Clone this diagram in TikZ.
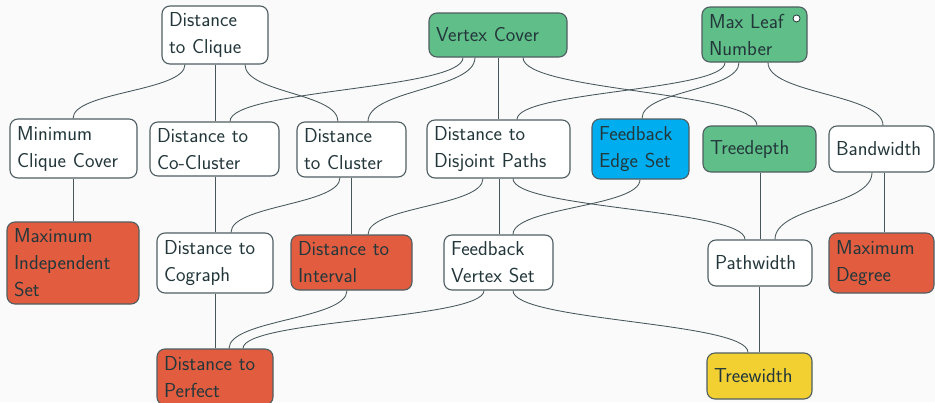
\documentclass[tikz,border=0pt]{standalone}
\usepackage{fontspec}
\usetikzlibrary{calc}

\definecolor{bgc}{HTML}{FAFAFA}
\definecolor{ink}{HTML}{23373B}
\definecolor{rim}{HTML}{4F5E62}
\definecolor{linkc}{HTML}{46565A}
\definecolor{fgreen}{HTML}{60BE88}
\definecolor{fred}{HTML}{E25D40}
\definecolor{fblue}{HTML}{00AEEF}
\definecolor{fyellow}{HTML}{F2D032}

% vertical S-shaped link from the bottom of one node to the top of another
\newcommand{\vlink}[4]{%
  \draw[link] let \p1=([xshift=#2]#1.south), \p2=([xshift=#4]#3.north) in
    (\p1) .. controls (\x1,{0.5*(\y1+\y2)}) and (\x2,{0.5*(\y1+\y2)}) .. (\p2);%
}

\tikzset{
  param/.style={draw=rim, line width=1.1pt, rounded corners=8pt, fill=white,
    text=ink, align=left, inner xsep=7pt, inner ysep=2pt,
    font=\sffamily\fontsize{20.2}{27}\selectfont},
  sz/.style 2 args={minimum width=#1pt, minimum height=#2pt, text width=#1pt-14pt},
  easy/.style={fill=fgreen},
  hard/.style={fill=fred},
  edgeset/.style={fill=fblue},
  twidth/.style={fill=fyellow},
  link/.style={draw=linkc, line width=0.85pt},
}

\begin{document}
\begin{tikzpicture}[x=1pt, y=-1pt]
  \fill[bgc] (0,0) rectangle (935,402);
  \useasboundingbox (0,0) rectangle (935,402);

  % top row
  \node[param, sz={106}{58}] (dclique) at (215,35) {Distance\\to Clique};
  \node[param, easy, sz={138}{44}] (vc) at (498,35) {Vertex Cover};
  \node[param, easy, sz={105}{55}] (mln) at (754.5,34.5) {Max Leaf\\Number};
  \node[circle, draw=ink, fill=white, line width=0.8pt, inner sep=0pt,
        minimum size=7pt] (mlndot) at ([xshift=-11pt, yshift=-12pt]mln.north east) {};

  % second row
  \node[param, sz={127}{59}] (mcc) at (73.5,148.5) {Minimum\\Clique Cover};
  \node[param, sz={129}{54}] (dcoc) at (214.5,149) {Distance to\\Co-Cluster};
  \node[param, sz={109}{55}] (dclu) at (351.5,149.5) {Distance\\to Cluster};
  \node[param, sz={143}{58}] (ddp) at (498.5,149) {Distance to\\Disjoint Paths};
  \node[param, edgeset, sz={97}{60}] (fes) at (640.5,149) {Feedback\\Edge Set};
  \node[param, easy, sz={113}{46}] (td) at (759.5,149) {Treedepth};
  \node[param, sz={105}{46}] (bw) at (881.5,149) {Bandwidth};

  % third row
  \node[param, hard, sz={132}{82}] (mis) at (73,263) {Maximum\\Independent\\Set};
  \node[param, sz={116}{60}] (dcog) at (215,263) {Distance to\\Cograph};
  \node[param, hard, sz={121}{55}] (dint) at (351.5,262.5) {Distance to\\Interval};
  \node[param, sz={109}{55}] (fvs) at (498.5,262.5) {Feedback\\Vertex Set};
  \node[param, sz={104}{46}] (pw) at (760,263) {Pathwidth};
  \node[param, hard, sz={105}{60}] (md) at (881.5,263) {Maximum\\Degree};

  % bottom row
  \node[param, hard, sz={116}{56}] (dperf) at (215,377) {Distance to\\Perfect};
  \node[param, twidth, sz={105}{46}] (tw) at (759.5,376) {Treewidth};

  % links, top row to second row
  \vlink{dclique}{-30pt}{mcc}{-0.5pt}
  \vlink{dclique}{0pt}{dcoc}{0.5pt}
  \vlink{dclique}{30pt}{dclu}{-13.5pt}
  \vlink{vc}{-35pt}{dcoc}{15.5pt}
  \vlink{vc}{-23pt}{dclu}{16.5pt}
  \vlink{vc}{0pt}{ddp}{-0.5pt}
  \vlink{vc}{25pt}{td}{-2.5pt}
  \vlink{mln}{-29.5pt}{ddp}{18.5pt}
  \vlink{mln}{-15.5pt}{fes}{1.5pt}
  \vlink{mln}{13.5pt}{bw}{1.5pt}

  % second row to third row
  \vlink{mcc}{-0.5pt}{mis}{0pt}
  \vlink{dcoc}{0.5pt}{dcog}{0pt}
  \vlink{dclu}{-11.5pt}{dcog}{16pt}
  \vlink{dclu}{-0.5pt}{dint}{-0.5pt}
  \vlink{ddp}{-15.5pt}{dint}{16.5pt}
  \vlink{ddp}{0.5pt}{fvs}{0.5pt}
  \vlink{ddp}{14.5pt}{pw}{-15pt}
  \vlink{fes}{-0.5pt}{fvs}{14.5pt}
  \vlink{td}{0.5pt}{pw}{0pt}
  \vlink{bw}{-9.5pt}{pw}{15pt}
  \vlink{bw}{2.5pt}{md}{2.5pt}

  % third row to bottom row
  \vlink{dcog}{0pt}{dperf}{0pt}
  \vlink{dint}{-4.5pt}{dperf}{14pt}
  \vlink{fvs}{-14.5pt}{dperf}{28pt}
  \vlink{fvs}{14.5pt}{tw}{-11.5pt}
  \vlink{pw}{-1pt}{tw}{-0.5pt}
\end{tikzpicture}
\end{document}
